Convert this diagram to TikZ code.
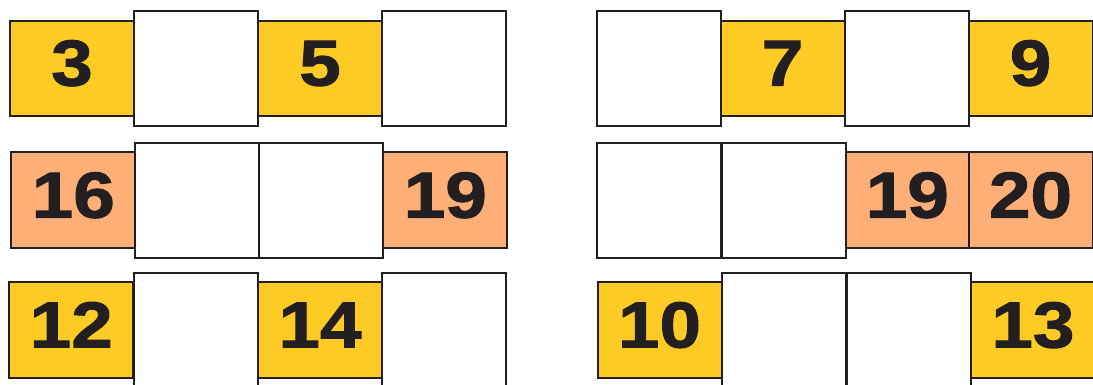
\documentclass[tikz,border=0pt]{standalone}
\usepackage{fontspec}
\setmainfont[FakeStretch=1.15,BoldFeatures={FakeBold=1.6}]{Liberation Sans}
\definecolor{ink}{HTML}{231F20}
\definecolor{yel}{HTML}{FDCB24}
\definecolor{pch}{HTML}{FDAF77}
\begin{document}
\begin{tikzpicture}[x=1pt,y=-1pt,
  cellbase/.style={draw=ink,line width=2pt,rectangle,inner sep=0pt,minimum width=124pt,
    text=ink,font=\fontsize{65}{65}\selectfont\bfseries,text height=46.5pt,text depth=12pt},
  ybox/.style={cellbase,fill=yel,minimum height=95.5pt},
  pbox/.style={cellbase,fill=pch,minimum height=96pt},
  wbox/.style={cellbase,fill=white,minimum height=115pt}]
\clip (0,0) rectangle (1093,385);
\fill[white] (0,0) rectangle (1093,385);
% Row 1 left
\node[ybox] (a1) at (72,68.3) {3};
\node[ybox] (a3) at (320,68.3) {5};
\node[wbox] (a2) at (196,68.3) {};
\node[wbox] (a4) at (444.3,68.3) {};
% Row 1 right
\node[ybox] (b2) at (782.5,68.3) {7};
\node[ybox] (b4) at (1030.5,68.3) {9};
\node[wbox] (b1) at (658.5,68.3) {};
\node[wbox] (b3) at (906.5,68.3) {};
% Row 2 left
\node[pbox] (c1) at (73.3,200.4) {16};
\node[pbox] (c4) at (445.3,200.4) {19};
\node[wbox] (c2) at (197.2,200.4) {};
\node[wbox] (c3) at (321.3,200.4) {};
% Row 2 right
\node[pbox] (d3) at (907.3,200.4) {19};
\node[pbox] (d4) at (1030.5,200.4) {20};
\node[wbox] (d1) at (659.2,200.4) {};
\node[wbox] (d2) at (783.7,200.4) {};
% Row 3 left
\node[ybox] (e1) at (71.2,330.2) {12};
\node[ybox] (e3) at (320,330.2) {14};
\node[wbox] (e2) at (195.8,330.2) {};
\node[wbox] (e4) at (444.2,330.2) {};
% Row 3 right
\node[ybox] (f1) at (659.5,330.2) {10};
\node[ybox] (f4) at (1032.9,330.2) {13};
\node[wbox] (f2) at (784.2,330.2) {};
\node[wbox] (f3) at (908.7,330.2) {};
\end{tikzpicture}
\end{document}
